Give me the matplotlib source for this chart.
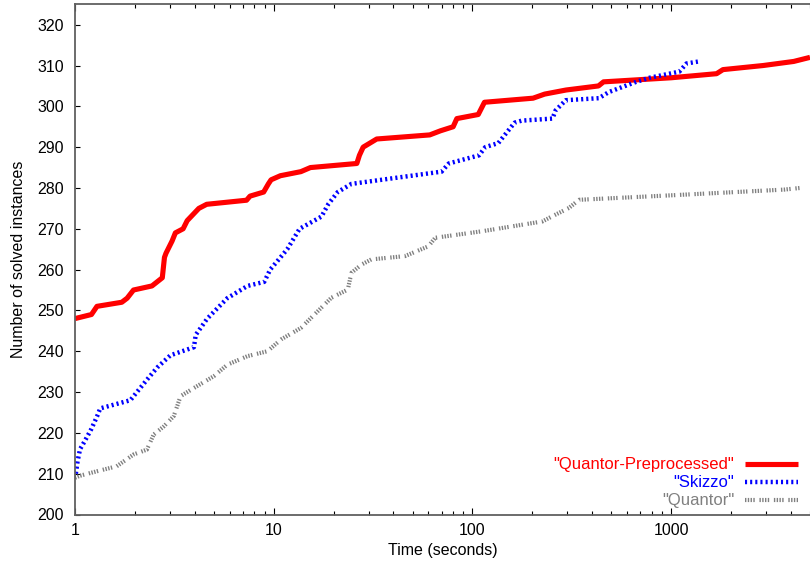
import matplotlib
matplotlib.use("Agg")
import matplotlib.pyplot as plt
from matplotlib.ticker import LogLocator, FixedLocator, NullLocator, FuncFormatter

plt.rcParams['font.family'] = ['Liberation Sans', 'DejaVu Sans']
plt.rcParams['lines.scale_dashes'] = False

# ---- data ----
qp_t = [1.0, 1.21, 1.29, 1.72, 1.83, 1.97, 2.44, 2.75, 2.82, 2.87, 3.08, 3.2, 3.5, 3.67,
        4.2, 4.6, 7.3, 7.6, 8.9, 9.4, 9.7, 10.8, 13.7, 15.3, 26.2, 27.0, 28.2, 33.0, 61,
        69, 80, 83.5, 107, 115, 202, 231, 296, 431, 457, 1000, 1694, 1824, 2905, 4140, 5000]
qp_v = [248, 249, 251, 252, 253, 255, 256, 258, 263, 264, 267, 269, 270, 272,
        275, 276, 277, 278, 279, 281, 282, 283, 284, 285, 286, 288, 290, 292, 293,
        294, 295, 297, 298, 301, 302, 303, 304, 305, 306, 307, 308, 309, 310, 311, 312]

sk_t = [1.01, 1.03, 1.06, 1.12, 1.21, 1.29, 1.34, 1.9, 2.05, 2.3, 2.59, 3.02, 3.97, 4.05,
        4.63, 5.84, 7.38, 8.96, 9.6, 10.4, 11.7, 13.5, 17.4, 18.8, 21.0, 24.6, 34.8, 70,
        76, 108, 116, 135, 163, 177, 253, 262, 295, 433, 486, 667, 779, 1100, 1195, 1380]
sk_v = [210, 213, 216, 218, 221, 224, 226, 228, 230, 233, 236, 239, 241, 244,
        248, 253, 256, 257, 260, 262, 265, 270, 273, 276, 279, 281, 282, 284,
        286, 288, 290, 291, 296, 296.5, 297, 299, 301.5, 302, 303.5, 306, 307, 308.5, 310.5, 311]

qu_t = [1.0, 1.06, 1.29, 1.62, 1.97, 2.3, 2.49, 2.8, 3.14, 3.4, 3.97, 5.0, 5.84, 7.38,
        9.3, 10.9, 13.7, 19.5, 23.6, 24.6, 27.6, 31, 45.7, 60, 65, 112, 225, 253, 306,
        344, 1000, 3700, 4450]
qu_v = [209, 209.5, 210.6, 211.8, 214.7, 215.9, 219.6, 221.6, 224.1, 229, 231, 233.9,
        236.7, 238.8, 240, 242.9, 245.7, 253.1, 255.1, 259.2, 261.2, 262.5, 263.3, 265.7,
        267.8, 269.4, 271.8, 273.1, 275.1, 277.1, 278.2, 279.6, 280]

labels = ['"Quantor-Preprocessed"', '"Skizzo"', '"Quantor"']
colors = ['#ff0000', '#0000ff', '#808080']
y_ticks = [200, 210, 220, 230, 240, 250, 260, 270, 280, 290, 300, 310, 320]
x_ticks = [1, 10, 100, 1000]

fig = plt.figure(figsize=(8.1, 5.68), dpi=100)
ax = fig.add_axes([75/810, (568-514.5)/568, 735/810, 510.2/568])

ax.plot(qp_t, qp_v, color=colors[0], lw=3.7, solid_capstyle='butt', solid_joinstyle='round',
        label=labels[0])
ax.plot(sk_t, sk_v, color=colors[1], lw=3.2, linestyle=(0, (1.5, 2.2)), dash_capstyle='butt',
        label=labels[1])
ax.plot(qu_t, qu_v, color=colors[2], lw=3.0,
        linestyle=(0, (1.0, 1.0, 1.0, 1.0, 1.0, 1.0, 1.0, 3.4)), dash_capstyle='butt',
        label=labels[2])

ax.set_xscale('log')
ax.set_xlim(1, 5000)
ax.set_ylim(200, 325)
ax.xaxis.set_major_locator(FixedLocator(x_ticks))
ax.xaxis.set_major_formatter(FuncFormatter(lambda v, p: f"{int(round(v))}"))
ax.xaxis.set_minor_locator(LogLocator(base=10, subs=range(2, 10)))
ax.xaxis.set_minor_formatter(FuncFormatter(lambda v, p: ""))
ax.yaxis.set_major_locator(FixedLocator(y_ticks))
ax.yaxis.set_minor_locator(NullLocator())

ax.tick_params(axis='x', which='major', direction='in', top=True, length=5, width=0.8,
               labelsize=11.5, pad=6, color='black')
ax.tick_params(axis='x', which='minor', direction='in', top=True, length=2.6, width=0.8,
               color='black')
ax.tick_params(axis='y', which='major', direction='in', right=False, length=3.8, width=0.8,
               labelsize=11.5, pad=8, color='black')

for s in ['left', 'bottom', 'top']:
    ax.spines[s].set_color('#606060')
    ax.spines[s].set_linewidth(1.3)
ax.spines['right'].set_visible(False)

ax.set_xlabel('Time (seconds)', fontsize=11.5, labelpad=4)
ax.set_ylabel('Number of solved instances', fontsize=11.5)
ax.yaxis.set_label_coords(-0.066, 0.5)

leg = ax.legend(loc='lower right', bbox_to_anchor=(0.984, 0.012), frameon=False,
                markerfirst=False, labelcolor='linecolor', fontsize=12,
                handlelength=3.2, handletextpad=0.65, labelspacing=0.18, borderpad=0,
                borderaxespad=0)

fig.savefig('out.png', dpi=100)
